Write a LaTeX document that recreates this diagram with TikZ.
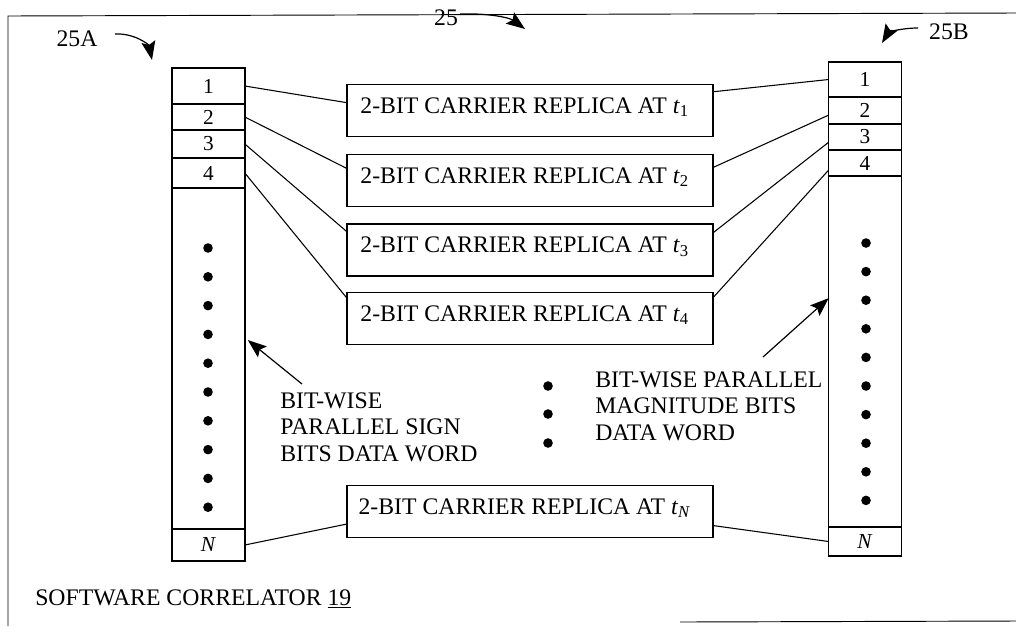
\documentclass[tikz,border=0pt]{standalone}
\usepackage{fontspec}
\setmainfont{Liberation Serif}
\usetikzlibrary{arrows.meta,calc}
\begin{document}
\begin{tikzpicture}[x=0.75pt,y=-0.75pt,
  big/.style={font=\fontsize{17.8}{20}\selectfont},
  cell/.style={draw, line width=1.1pt, inner sep=0pt, outer sep=0pt,
    minimum width=54.5pt, font=\fontsize{16}{18}\selectfont},
  rbox/.style={draw, line width=1.1pt, inner sep=0pt, outer sep=0pt,
    minimum width=274.5pt, minimum height=39pt},
  rtext/.style={big, inner sep=0pt, xshift=-4pt, yshift=2.5pt},
  conn/.style={line width=0.8pt},
  frame/.style={line width=0.7pt},
  arr/.style={line width=0.9pt, -{Stealth[length=14pt,width=10.5pt,inset=2.5pt]}},
  dotm/.style={fill=black}
]
\useasboundingbox (0,0) rectangle (1016,626);

% frame
\draw[frame] (8,626) -- (8,16) -- (1016,13);
\draw[frame] (680,622) -- (1016,621);

% left column 25A
\node[cell, minimum height=27pt]     (a1) at (208.5,86)    {1};
\node[cell, minimum height=19.5pt]   (a2) at (208.5,117)   {2};
\node[cell, minimum height=21pt]     (a3) at (208.5,144)   {3};
\node[cell, minimum height=22.5pt]   (a4) at (208.5,173)   {4};
\node[cell, minimum height=255.75pt] (aBody) at (208.5,358.5) {};
\node[cell, minimum height=24pt]     (aN) at (208.5,545)   {\textit{N}};

% right column 25B
\node[cell, minimum height=26.25pt]  (b1) at (865,79.5)    {1};
\node[cell, minimum height=20.25pt]  (b2) at (865,110.5)   {2};
\node[cell, minimum height=19.5pt]   (b3) at (865,137)     {3};
\node[cell, minimum height=19.5pt]   (b4) at (865,163)     {4};
\node[cell, minimum height=263.25pt] (bBody) at (865,351.5) {};
\node[cell, minimum height=21.75pt]  (bN) at (865,541.5)   {\textit{N}};

% replica boxes
\node[rbox, label={[rtext]center:2-BIT CARRIER REPLICA AT \textit{t}\textsubscript{1}}] (r1) at (530,110.5) {};
\node[rbox, label={[rtext]center:2-BIT CARRIER REPLICA AT \textit{t}\textsubscript{2}}] (r2) at (530,180.5) {};
\node[rbox, label={[rtext]center:2-BIT CARRIER REPLICA AT \textit{t}\textsubscript{3}}] (r3) at (530,250) {};
\node[rbox, label={[rtext]center:2-BIT CARRIER REPLICA AT \textit{t}\textsubscript{4}}] (r4) at (530,318.5) {};
\node[rbox, label={[rtext]center:2-BIT CARRIER REPLICA AT \textit{t}\textsubscript{\textit{N}}}] (rN) at (530,511.5) {};

% connectors
\draw[conn] (a1.east) -- ($(r1.north west)!0.35!(r1.south west)$);
\draw[conn] (a2.east) -- ($(r2.north west)!0.27!(r2.south west)$);
\draw[conn] (a3.east) -- ($(r3.north west)!0.15!(r3.south west)$);
\draw[conn] (a4.east) -- ($(r4.north west)!0.11!(r4.south west)$);
\draw[conn] ($(r1.north east)!0.14!(r1.south east)$) -- (b1.west);
\draw[conn] ($(r2.north east)!0.25!(r2.south east)$) -- ($(b2.north west)!0.67!(b2.south west)$);
\draw[conn] ($(r3.north east)!0.17!(r3.south east)$) -- ($(b3.north west)!0.7!(b3.south west)$);
\draw[conn] ($(r4.north east)!0.1!(r4.south east)$) -- ($(b4.north west)!0.77!(b4.south west)$);
\draw[conn] (aN.east) -- ($(rN.north west)!0.74!(rN.south west)$);
\draw[conn] ($(rN.north east)!0.77!(rN.south east)$) -- (bN.west);

% dots
\foreach \k in {0,...,9} {
  \fill[dotm] (208,248+28.8*\k) circle[radius=3.6pt];
  \fill[dotm] (866,243+28.6*\k) circle[radius=3.6pt];
}
\foreach \yy in {386,414,443} \fill[dotm] (548,\yy) circle[radius=3.6pt];

% labels
\node[big, align=left, anchor=west, inner sep=0pt] (lblL) at (280,427)
  {\baselineskip=18pt BIT-WISE\\PARALLEL SIGN\\BITS DATA WORD};
\node[big, align=left, anchor=west, inner sep=0pt] (lblR) at (595,406)
  {\baselineskip=20pt BIT-WISE PARALLEL\\MAGNITUDE BITS\\DATA WORD};
\coordinate (lLtail) at (302,384);
\coordinate (lRtail) at (763,357);
\draw[arr] (lLtail) -- ($(aBody.north east)!0.446!(aBody.south east)+(3,0)$);
\draw[arr] (lRtail) -- ($(bBody.north west)!0.348!(bBody.south west)$);

% reference labels
\node[big, inner sep=0pt] (l25A) at (77,39) {25A};
\node[big, inner sep=0pt] (l25)  at (446,18) {25};
\node[big, inner sep=0pt] (l25B) at (949,32) {25B};
\coordinate (t25A) at (152,60);
\coordinate (t25)  at (525,29);
\coordinate (t25B) at (882,43);
\draw[arr] (115,34) .. controls (135,33) and (149,45) .. (t25A);
\draw[arr] (460,14) .. controls (490,13) and (510,18) .. (t25);
\draw[arr] (918,28) .. controls (900,28) and (888,33) .. (t25B);

\node[big, anchor=west, inner sep=0pt] (title) at (35,599)
  {SOFTWARE CORRELATOR \underline{19}};
\end{tikzpicture}
\end{document}
